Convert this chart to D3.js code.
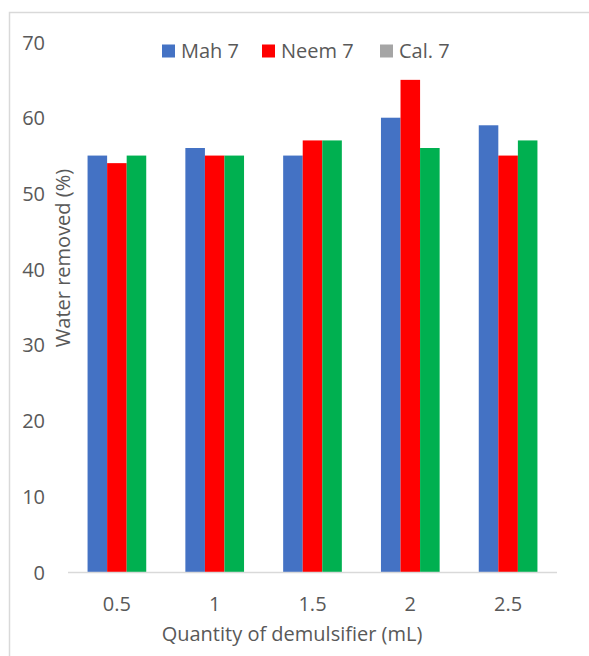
<!DOCTYPE html>
<html>
<head>
<meta charset="utf-8">
<script src="https://cdn.jsdelivr.net/npm/d3@7/dist/d3.min.js"></script>
<style>
  html, body { margin: 0; padding: 0; background: #fff; }
  svg { display: block; font-family: "Open Sans", "Noto Sans", sans-serif; }
</style>
</head>
<body>
<svg id="chart" width="589" height="656"></svg>
<script>
// Doses of demulsifier (mL)
const categories = ["0.5", "1", "1.5", "2", "2.5"];
// Water removed (%) per demulsifier
const mah7  = [55, 56, 55, 60, 59];
const neem7 = [54, 55, 57, 65, 55];
const cal7  = [55, 55, 57, 56, 57];
const seriesNames = ["Mah 7", "Neem 7", "Cal. 7"];
const yTicks = [0, 10, 20, 30, 40, 50, 60, 70];

const barColors = ["#4472C4", "#FF0000", "#00B050"];
const legendColors = ["#4472C4", "#FF0000", "#A5A5A5"];
const textColor = "#595959";
const fontSize = "20px";

const svg = d3.select("#chart");

// Outer frame (top and left edges)
svg.append("path")
  .attr("d", "M9.5,656 V12.5 H589")
  .attr("fill", "none")
  .attr("stroke", "#d9d9d9")
  .attr("stroke-width", 1.5);

const plot = { left: 68, right: 557, top: 42, bottom: 572 };

const x0 = d3.scaleBand()
  .domain(categories)
  .range([plot.left, plot.right])
  .paddingInner(0.4)
  .paddingOuter(0.2);

const x1 = d3.scaleBand()
  .domain(d3.range(seriesNames.length))
  .range([0, x0.bandwidth()]);

const y = d3.scaleLinear().domain([0, 70]).range([plot.bottom, plot.top]);

const rows = categories.map((c, i) => ({ cat: c, vals: [mah7[i], neem7[i], cal7[i]] }));

// Bars
const groups = svg.append("g").selectAll("g")
  .data(rows).join("g")
  .attr("transform", d => `translate(${x0(d.cat)},0)`);

groups.selectAll("rect")
  .data(d => d.vals.map((v, k) => ({ v, k })))
  .join("rect")
  .attr("x", d => x1(d.k))
  .attr("y", d => y(d.v))
  .attr("width", x1.bandwidth())
  .attr("height", d => y(0) - y(d.v))
  .attr("fill", d => barColors[d.k]);

// Category axis line
svg.append("line")
  .attr("x1", plot.left).attr("x2", plot.right)
  .attr("y1", plot.bottom + 0.5).attr("y2", plot.bottom + 0.5)
  .attr("stroke", "#d9d9d9").attr("stroke-width", 1.5);

// Y axis labels (no line, no ticks)
const yAxis = svg.append("g")
  .attr("transform", `translate(${plot.left - 23},0)`)
  .call(d3.axisLeft(y).tickValues(yTicks).tickSize(0).tickPadding(0));
yAxis.select(".domain").remove();
yAxis.selectAll("text")
  .attr("fill", textColor)
  .style("font-size", fontSize)
  .style("font-family", "'Open Sans', sans-serif")
  .attr("dy", "0.35em");

// X axis labels
const xAxis = svg.append("g")
  .attr("transform", `translate(0,${plot.bottom})`)
  .call(d3.axisBottom(x0).tickSize(0).tickPadding(0));
xAxis.select(".domain").remove();
xAxis.selectAll("text")
  .attr("fill", textColor)
  .style("font-size", fontSize)
  .style("font-family", "'Open Sans', sans-serif")
  .attr("y", 32)
  .attr("dy", "0.35em");

// Axis titles
svg.append("text")
  .attr("transform", `translate(75,258) rotate(-90)`)
  .attr("text-anchor", "middle")
  .attr("dy", "-0.25em")
  .attr("fill", textColor)
  .style("font-size", fontSize)
  .text("Water removed (%)");

svg.append("text")
  .attr("x", 292)
  .attr("y", 634)
  .attr("text-anchor", "middle")
  .attr("dy", "0.35em")
  .attr("fill", textColor)
  .style("font-size", fontSize)
  .text("Quantity of demulsifier (mL)");

// Legend
const legendX = [162, 262, 380];
const legend = svg.append("g").selectAll("g")
  .data(seriesNames).join("g")
  .attr("transform", (d, i) => `translate(${legendX[i]},51)`);
legend.append("rect")
  .attr("x", 0).attr("y", -6.5)
  .attr("width", 13).attr("height", 13)
  .attr("fill", (d, i) => legendColors[i]);
legend.append("text")
  .attr("x", 19)
  .attr("dy", "0.35em")
  .attr("fill", textColor)
  .style("font-size", fontSize)
  .text(d => d);
</script>
</body>
</html>
